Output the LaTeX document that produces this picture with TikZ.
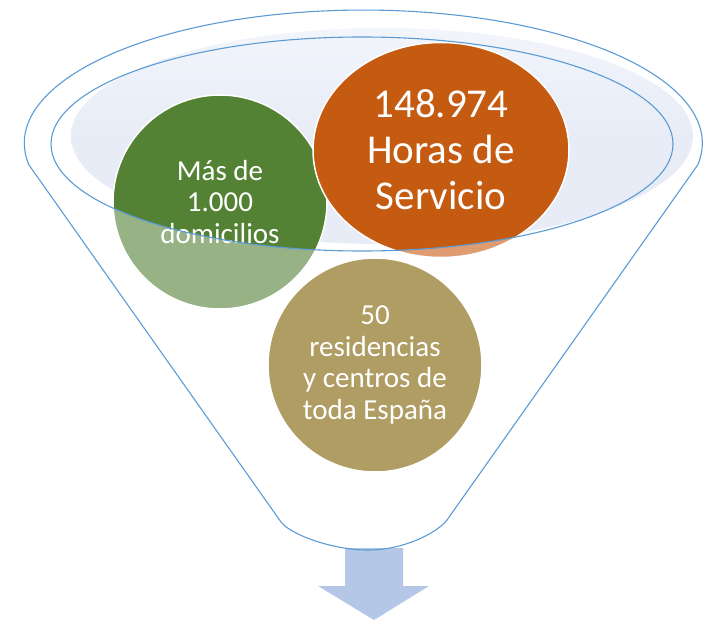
\documentclass[tikz,border=0pt]{standalone}
\usepackage{fontspec}
\setmainfont{Carlito}
\usetikzlibrary{shapes.geometric,positioning}
\definecolor{rimblue}{RGB}{91,155,213}
\definecolor{poolblue}{RGB}{231,236,246}
\definecolor{poollight}{RGB}{242,245,251}
\definecolor{darkgreen}{RGB}{84,130,53}
\definecolor{lightgreen}{RGB}{151,179,134}
\definecolor{darkorange}{RGB}{197,90,17}
\definecolor{lightorange}{RGB}{223,156,112}
\definecolor{sandtan}{RGB}{176,157,99}
\definecolor{arrowblue}{RGB}{180,199,231}
\tikzset{rim/.style={draw=rimblue, line width=1.1pt},
  bubble/.style={circle, draw=white, line width=1.5pt, text=white, align=center, inner sep=0pt, minimum size=214pt},
  small/.style={font=\fontsize{29}{31.5}\selectfont}}

\begin{document}
\begin{tikzpicture}[x=1pt,y=-1pt]
\useasboundingbox (0,0) rectangle (711,620);

% arrow out of the funnel
\fill[arrowblue] (345,548) -- (403,548) -- (403,586) -- (429,586) -- (374,620) -- (318,586) -- (345,586) -- cycle;

% surface and funnel body
\shade[top color=poollight, bottom color=poolblue, middle color=poolblue] (382,136) ellipse [x radius=311, y radius=108];
\draw[rim] (29,165) arc[start angle=170.5, end angle=369.5, x radius=339, y radius=133] -- (447,520) .. controls (438,532) and (405,550) .. (368,550) .. controls (331,550) and (290,534) .. (281,522) -- cycle;

% Mas de 1.000 domicilios
\fill[lightgreen] (220,202) circle (107);
\begin{scope} \clip (362,144) ellipse [x radius=311, y radius=107]; \fill[darkgreen] (220,202) circle (107); \end{scope}
\node[bubble, small] (domicilios) at (220,202) {Más de\\1.000\\domicilios};

% 148.974 Horas de Servicio
\fill[lightorange] (441,150) ellipse [x radius=128, y radius=107.5];
\begin{scope} \clip (362,144) ellipse [x radius=311, y radius=107]; \fill[darkorange] (441,150) ellipse [x radius=128, y radius=107.5]; \end{scope}
\node[bubble, ellipse, minimum width=256pt, minimum height=215pt, font=\fontsize{41}{46}\selectfont] (horas) at (441,150) {148.974\\Horas de\\Servicio};

% 50 residencias
\fill[sandtan] (375,365) circle (107);
\node[bubble, small] (residencias) at (375,365) {50\\residencias\\y centros de\\toda España};

\draw[rim] (362,144) ellipse [x radius=311, y radius=107];
\end{tikzpicture}
\end{document}
